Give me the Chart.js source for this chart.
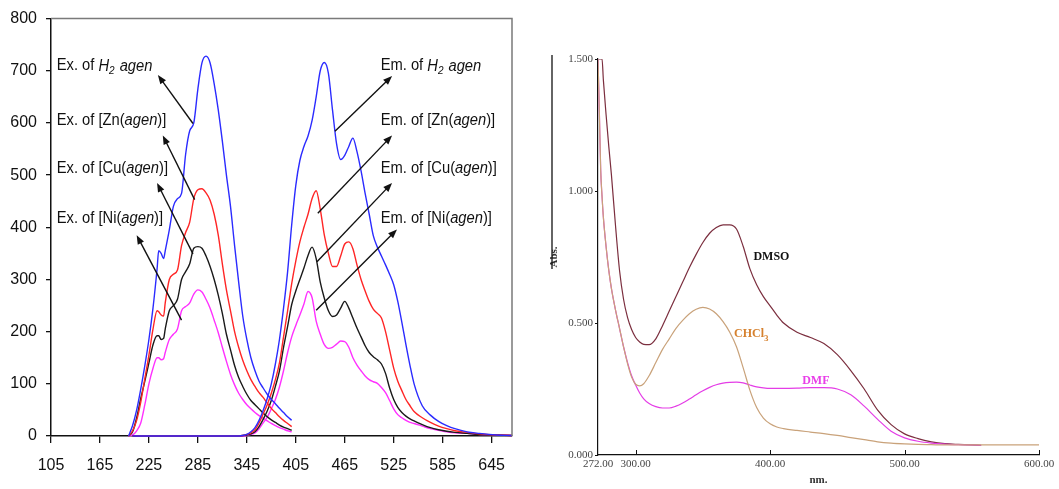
<!DOCTYPE html>
<html>
<head>
<meta charset="utf-8">
<script src="https://cdn.jsdelivr.net/npm/chart.js@4.4.1/dist/chart.umd.min.js"></script>
<style>
  html, body { margin: 0; padding: 0; background: #fff; }
  #wrap { position: relative; width: 1059px; height: 489px; overflow: hidden; }
  #left { position: absolute; left: 0; top: 0; }
  #right { position: absolute; left: 540px; top: 0; }
</style>
</head>
<body>
<div id="wrap">
  <canvas id="left" width="540" height="489"></canvas>
  <canvas id="right" width="519" height="489"></canvas>
</div>
<script>
// ---- left panel: excitation / emission spectra ----
const leftXTicks = [105, 165, 225, 285, 345, 405, 465, 525, 585, 645];

const exX = [200, 205, 210, 215, 220, 225, 230, 235, 237, 240, 243, 245, 250, 255, 260, 265, 270, 275, 280, 285, 290, 295, 300, 305, 310, 315, 320, 325, 330, 335, 340, 345, 350, 355, 360, 365, 370, 375, 380, 385, 390, 395, 400];
const exH2 = [0, 20, 50, 90, 135, 185, 245, 320, 355, 350, 340, 355, 395, 440, 455, 465, 540, 585, 600, 665, 715, 728, 715, 675, 625, 565, 500, 440, 365, 295, 230, 185, 150, 125, 105, 92, 80, 70, 62, 53, 45, 37, 30];
const exZn = [0, 10, 30, 65, 110, 155, 205, 240, 238, 232, 230, 255, 300, 310, 318, 365, 390, 410, 455, 472, 474, 466, 452, 425, 385, 330, 280, 240, 200, 170, 145, 125, 108, 95, 83, 74, 63, 53, 45, 37, 30, 24, 18];
const exCu = [0, 8, 35, 72, 105, 140, 175, 192, 192, 185, 187, 205, 240, 250, 262, 300, 315, 330, 360, 363, 360, 345, 325, 300, 270, 235, 195, 165, 135, 112, 95, 80, 68, 60, 52, 44, 37, 31, 26, 21, 17, 14, 11];
const exNi = [0, 2, 10, 25, 60, 100, 130, 150, 150, 146, 148, 160, 185, 195, 205, 240, 248, 255, 272, 280, 276, 262, 245, 222, 198, 170, 143, 118, 98, 82, 70, 60, 52, 45, 39, 34, 29, 24, 20, 16, 13, 10, 8];

const emX = [205, 260, 320, 330, 340, 345, 350, 355, 360, 365, 370, 375, 380, 385, 390, 395, 400, 405, 410, 415, 420, 425, 430, 435, 440, 445, 450, 455, 460, 465, 470, 475, 480, 485, 490, 495, 500, 505, 510, 515, 520, 525, 530, 535, 540, 545, 550, 560, 570, 580, 590, 600, 615, 630, 650, 670];
const emH2 = [0, 0, 0, 0, 1, 3, 8, 16, 30, 49, 72, 100, 138, 185, 245, 315, 405, 480, 528, 555, 575, 605, 650, 700, 716, 695, 625, 560, 530, 538, 555, 571, 545, 508, 465, 425, 384, 362, 345, 328, 310, 290, 258, 218, 175, 135, 100, 58, 40, 28, 20, 14, 8, 5, 2, 1];
const emZn = [0, 0, 0, 0, 1, 3, 6, 12, 25, 42, 60, 82, 108, 140, 190, 240, 292, 335, 372, 400, 425, 455, 470, 435, 385, 350, 325, 325, 345, 368, 372, 359, 328, 300, 278, 258, 243, 235, 226, 200, 165, 130, 105, 87, 70, 58, 47, 35, 26, 19, 14, 10, 7, 4, 2, 1];
const emCu = [0, 0, 0, 0, 1, 2, 4, 8, 18, 32, 48, 68, 95, 125, 170, 210, 252, 278, 300, 322, 346, 362, 340, 295, 264, 240, 229, 232, 245, 258, 245, 226, 207, 190, 173, 160, 152, 146, 138, 120, 92, 70, 55, 45, 38, 33, 29, 22, 16, 12, 9, 7, 5, 3, 2, 1];
const emNi = [0, 0, 0, 0, 0, 1, 3, 6, 14, 25, 36, 52, 70, 94, 125, 160, 190, 212, 232, 253, 277, 265, 220, 195, 175, 168, 170, 176, 182, 181, 170, 150, 136, 125, 115, 108, 104, 101, 93, 83, 68, 52, 41, 35, 30, 26, 24, 19, 14, 11, 8, 6, 5, 3, 2, 1];

const leftColors = ['#2b2bff', '#ff2626', '#1a1a1a', '#ff30ff'];

// labels: [text parts], anchor (data x, data y of text centre line), arrow tail, arrow head
const exLabels = [
  [[{t: 'Ex. of '}, {t: 'H', it: 1}, {t: '2', it: 1, sub: 1}, {t: ' agen', it: 1}], [112, 709], [279, 599], [236, 692]],
  [[{t: 'Ex. of [Zn('}, {t: 'agen', it: 1}, {t: ')]'}], [112, 605], [281, 453], [242, 576]],
  [[{t: 'Ex. of [Cu('}, {t: 'agen', it: 1}, {t: ')]'}], [112, 512], [279, 349], [235, 485]],
  [[{t: 'Ex. of [Ni('}, {t: 'agen', it: 1}, {t: ')]'}], [112, 417], [265, 222], [210, 385]]
];
const emLabels = [
  [[{t: 'Em. of '}, {t: 'H', it: 1}, {t: '2', it: 1, sub: 1}, {t: ' agen', it: 1}], [509, 709], [453, 584], [523, 690]],
  [[{t: 'Em. of [Zn('}, {t: 'agen', it: 1}, {t: ')]'}], [509, 605], [432, 427], [523, 576]],
  [[{t: 'Em. of [Cu('}, {t: 'agen', it: 1}, {t: ')]'}], [509, 512], [431, 334], [523, 485]],
  [[{t: 'Em. of [Ni('}, {t: 'agen', it: 1}, {t: ')]'}], [509, 417], [430, 241], [529, 396]]
];

// ---- right panel: absorption in solvents ----
const absX = [272, 273, 274, 275, 276, 278, 280, 282, 285, 288, 291, 294, 297, 300, 303, 306, 310, 315, 320, 325, 330, 335, 340, 345, 350, 355, 360, 365, 370, 375, 380, 385, 390, 395, 400, 405, 410, 420, 430, 440, 450, 460, 470, 480, 490, 500, 510, 520, 530, 540, 550, 557, 570, 585, 600];
const absDMSO = [1.5, 1.5, 1.5, 1.5, 1.42, 1.29, 1.17, 1.06, 0.87, 0.70, 0.59, 0.52, 0.475, 0.445, 0.428, 0.419, 0.418, 0.44, 0.49, 0.545, 0.60, 0.655, 0.71, 0.76, 0.805, 0.84, 0.862, 0.872, 0.872, 0.856, 0.79, 0.705, 0.645, 0.60, 0.565, 0.53, 0.50, 0.465, 0.445, 0.422, 0.38, 0.32, 0.25, 0.17, 0.115, 0.08, 0.062, 0.05, 0.043, 0.04, 0.038, 0.037, null, null, null];
const absCHCl3 = [1.5, 1.3, 1.08, 0.98, 0.9, 0.79, 0.70, 0.63, 0.55, 0.48, 0.41, 0.345, 0.295, 0.268, 0.262, 0.27, 0.30, 0.35, 0.40, 0.44, 0.48, 0.51, 0.535, 0.552, 0.559, 0.553, 0.535, 0.505, 0.465, 0.41, 0.33, 0.245, 0.18, 0.14, 0.118, 0.106, 0.10, 0.093, 0.087, 0.081, 0.074, 0.066, 0.058, 0.05, 0.045, 0.042, 0.04, 0.039, 0.038, 0.038, 0.038, 0.038, 0.038, 0.038, 0.038];
const absDMF = [1.5, 1.3, 1.08, 0.98, 0.9, 0.79, 0.70, 0.63, 0.55, 0.48, 0.41, 0.35, 0.30, 0.265, 0.235, 0.213, 0.195, 0.183, 0.178, 0.178, 0.185, 0.197, 0.212, 0.228, 0.243, 0.256, 0.266, 0.272, 0.275, 0.276, 0.273, 0.265, 0.258, 0.254, 0.252, 0.252, 0.252, 0.253, 0.255, 0.255, 0.25, 0.228, 0.185, 0.135, 0.09, 0.065, 0.052, 0.045, 0.041, 0.039, 0.038, 0.037, null, null, null];
const absXTicks = [272, 300, 400, 500, 600];
const absYTicks = [0, 0.5, 1.0, 1.5];
const solventLabels = [
  {t: 'DMSO', sub: '', color: '#111111', at: [401, 0.75]},
  {t: 'CHCl', sub: '3', color: '#d6812e', at: [386, 0.46]},
  {t: 'DMF', sub: '', color: '#e83ee8', at: [434, 0.282]}
];

function pts(xs, ys) {
  return xs.map((x, i) => ({x: x, y: ys[i]}));
}

function drawRich(ctx, parts, x, y, size) {
  ctx.save();
  ctx.translate(x, y);
  ctx.scale(0.92, 1);
  ctx.textBaseline = 'middle';
  ctx.textAlign = 'left';
  ctx.fillStyle = '#111';
  let cx = 0;
  parts.forEach(p => {
    const fs = p.sub ? size * 0.68 : size;
    ctx.font = (p.it ? 'italic ' : '') + fs + 'px "Liberation Sans", Arial, sans-serif';
    ctx.fillText(p.t, cx, p.sub ? size * 0.3 : 0);
    cx += ctx.measureText(p.t).width + (p.sub ? 1 : 0);
  });
  ctx.restore();
}

function drawArrow(ctx, x1, y1, x2, y2) {
  const ang = Math.atan2(y2 - y1, x2 - x1);
  const len = 9, half = 3.5;
  ctx.save();
  ctx.strokeStyle = '#111';
  ctx.fillStyle = '#111';
  ctx.lineWidth = 1.4;
  ctx.beginPath();
  ctx.moveTo(x1, y1);
  ctx.lineTo(x2 - Math.cos(ang) * len * 0.6, y2 - Math.sin(ang) * len * 0.6);
  ctx.stroke();
  ctx.beginPath();
  ctx.moveTo(x2, y2);
  ctx.lineTo(x2 - Math.cos(ang) * len - Math.sin(ang) * half, y2 - Math.sin(ang) * len + Math.cos(ang) * half);
  ctx.lineTo(x2 - Math.cos(ang) * len + Math.sin(ang) * half, y2 - Math.sin(ang) * len - Math.cos(ang) * half);
  ctx.closePath();
  ctx.fill();
  ctx.restore();
}

// grey frame on top and right of left plot, plus labels and arrows
const leftDecor = {
  id: 'leftDecor',
  afterDatasetsDraw(chart) {
    const {ctx, chartArea: a, scales: {x, y}} = chart;
    ctx.save();
    ctx.strokeStyle = '#7a7a7a';
    ctx.lineWidth = 1.5;
    ctx.beginPath();
    ctx.moveTo(a.left, a.top);
    ctx.lineTo(a.right, a.top);
    ctx.lineTo(a.right, a.bottom);
    ctx.stroke();
    ctx.restore();
    exLabels.concat(emLabels).forEach(l => {
      drawRich(ctx, l[0], x.getPixelForValue(l[1][0]), y.getPixelForValue(l[1][1]), 16);
      drawArrow(ctx, x.getPixelForValue(l[2][0]), y.getPixelForValue(l[2][1]),
        x.getPixelForValue(l[3][0]), y.getPixelForValue(l[3][1]));
    });
  }
};

const leftSets = [];
[[exH2, emH2], [exZn, emZn], [exCu, emCu], [exNi, emNi]].forEach((pair, i) => {
  leftSets.push({data: pts(exX, pair[0]), borderColor: leftColors[i]});
  leftSets.push({data: pts(emX, pair[1]), borderColor: leftColors[i]});
});

const sansTick = {family: '"Liberation Sans", Arial, sans-serif', size: 16};

new Chart(document.getElementById('left'), {
  type: 'line',
  data: {datasets: leftSets},
  options: {
    responsive: false,
    animation: false,
    layout: {padding: {left: 0, top: 14, right: 28, bottom: 0}},
    plugins: {legend: {display: false}, tooltip: {enabled: false}},
    elements: {
      point: {radius: 0},
      line: {borderWidth: 1.4, cubicInterpolationMode: 'monotone', fill: false}
    },
    datasets: {line: {clip: 3}},
    scales: {
      x: {
        type: 'linear', min: 105, max: 670,
        afterBuildTicks: s => { s.ticks = leftXTicks.map(v => ({value: v})); },
        afterFit: s => { s.height = 53; },
        grid: {drawOnChartArea: false, tickLength: 7, color: '#111', lineWidth: 1.3},
        border: {color: '#111', width: 1.5},
        ticks: {font: sansTick, color: '#111', padding: 13, maxRotation: 0, autoSkip: false}
      },
      y: {
        min: 0, max: 800,
        ticks: {stepSize: 100, font: sansTick, color: '#111', padding: 9},
        afterFit: s => { s.width = 51; },
        grid: {drawOnChartArea: false, tickLength: 5, color: '#111', lineWidth: 1.3},
        border: {color: '#111', width: 1.5}
      }
    }
  },
  plugins: [leftDecor]
});

// inward x ticks, solvent names and the stray marker line of the right panel
const rightDecor = {
  id: 'rightDecor',
  afterDatasetsDraw(chart) {
    const {ctx, chartArea: a, scales: {x, y}} = chart;
    ctx.save();
    ctx.strokeStyle = '#111';
    ctx.lineWidth = 1;
    absXTicks.slice(1).forEach(v => {
      const px = Math.round(x.getPixelForValue(v)) + 0.5;
      ctx.beginPath();
      ctx.moveTo(px, a.bottom);
      ctx.lineTo(px, a.bottom - 5);
      ctx.stroke();
    });
    ctx.lineWidth = 1.3;
    ctx.beginPath();
    ctx.moveTo(a.left - 46, y.getPixelForValue(1.515));
    ctx.lineTo(a.left - 46, y.getPixelForValue(0.705));
    ctx.stroke();
    ctx.textBaseline = 'middle';
    ctx.textAlign = 'left';
    solventLabels.forEach(l => {
      ctx.font = 'bold 12px "Liberation Serif", "Times New Roman", serif';
      const w = ctx.measureText(l.t).width;
      ctx.font = 'bold 9px "Liberation Serif", "Times New Roman", serif';
      const ws = l.sub ? ctx.measureText(l.sub).width : 0;
      const px = x.getPixelForValue(l.at[0]) - (w + ws) / 2;
      const py = y.getPixelForValue(l.at[1]);
      ctx.fillStyle = l.color;
      ctx.font = 'bold 12px "Liberation Serif", "Times New Roman", serif';
      ctx.fillText(l.t, px, py);
      if (l.sub) {
        ctx.font = 'bold 9px "Liberation Serif", "Times New Roman", serif';
        ctx.fillText(l.sub, px + w, py + 5);
      }
    });
    ctx.restore();
  }
};

const serifTick = {family: '"Liberation Serif", "Times New Roman", serif', size: 11};

new Chart(document.getElementById('right'), {
  type: 'line',
  data: {
    datasets: [
      {data: pts(absX, absCHCl3), borderColor: '#c9a27a'},
      {data: pts(absX, absDMF), borderColor: '#e43de6'},
      {data: pts(absX, absDMSO), borderColor: '#7b2e3e'}
    ]
  },
  options: {
    responsive: false,
    animation: false,
    layout: {padding: {left: 0, top: 59, right: 20, bottom: 0}},
    plugins: {legend: {display: false}, tooltip: {enabled: false}},
    elements: {
      point: {radius: 0},
      line: {borderWidth: 1.2, cubicInterpolationMode: 'monotone', fill: false}
    },
    scales: {
      x: {
        type: 'linear', min: 272, max: 600,
        afterBuildTicks: s => { s.ticks = absXTicks.map(v => ({value: v})); },
        afterFit: s => { s.height = 34; },
        grid: {display: true, drawOnChartArea: false, drawTicks: false},
        border: {color: '#111', width: 1.2},
        ticks: {font: serifTick, color: '#444', padding: 3, maxRotation: 0, autoSkip: false,
          callback: v => Number(v).toFixed(2)},
        title: {display: true, text: 'nm.', color: '#333',
          font: {family: '"Liberation Serif", "Times New Roman", serif', size: 11, weight: 'bold'},
          padding: {top: 0, bottom: 2}}
      },
      y: {
        min: 0, max: 1.5,
        afterBuildTicks: s => { s.ticks = absYTicks.map(v => ({value: v})); },
        afterFit: s => { s.width = 58; },
        grid: {drawOnChartArea: false, tickLength: 3, color: '#111'},
        border: {color: '#111', width: 1.2},
        ticks: {font: serifTick, color: '#444', padding: 2, callback: v => Number(v).toFixed(3)},
        title: {display: true, text: 'Abs.', color: '#333',
          font: {family: '"Liberation Serif", "Times New Roman", serif', size: 11, weight: 'bold'},
          padding: {top: 8, bottom: 0}}
      }
    }
  },
  plugins: [rightDecor]
});
</script>
</body>
</html>
